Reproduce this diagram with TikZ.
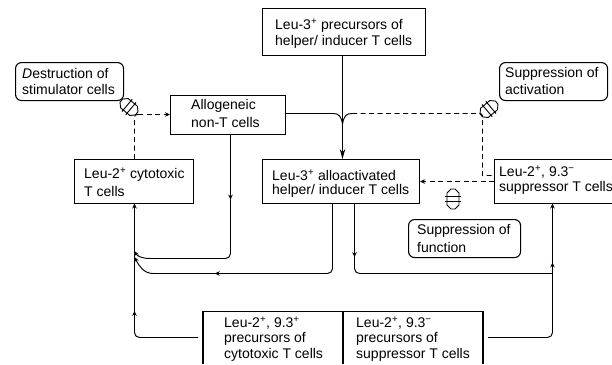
\documentclass[tikz,border=0pt]{standalone}
\usepackage{fontspec}
\setmainfont{Liberation Sans}
\usetikzlibrary{arrows.meta,calc,decorations.markings}
\tikzset{
  x=1pt,y=-1pt,
  sq/.style={inner sep=0pt},
  lbl/.style={inner sep=0pt,anchor=west,align=left,font=\fontsize{14}{16}\selectfont},
  solid conn/.style={line width=0.95pt},
  conn/.style={line width=0.95pt,rounded corners=5pt},
  dash conn/.style={line width=0.95pt,dash pattern=on 5pt off 3.5pt},
  tip/.style={-{Stealth[length=5pt,width=4.5pt]}},
  bigtip/.style={-{Stealth[length=10pt,width=5.5pt]}},
  midtip/.style={postaction={decorate},decoration={markings,mark=at position #1 with {\arrow{Stealth[length=5pt,width=4.5pt]}}}},
  icon/.style={line width=0.9pt,line join=round},
  barrel/.pic={
    \draw[icon] (-10,-2) -- (-6,-6) -- (6,-6) -- (10,-2) -- (10,2) -- (6,6) -- (-6,6) -- (-10,2) -- cycle;
    \draw[icon] (-2.5,-8) -- (-2.5,8);
    \draw[icon] (2.5,-8) -- (2.5,8);
  },
}
\newcommand{\cellbox}[5]{\node[sq,draw,line width=1.1pt,minimum width=#4pt,minimum height=#5pt,anchor=north west] (#1) at (#2,#3) {};}
\newcommand{\roundbox}[5]{\node[sq,draw,rounded corners=6pt,line width=1.1pt,minimum width=#4pt,minimum height=#5pt,anchor=north west] (#1) at (#2,#3) {};}
\begin{document}
\begin{tikzpicture}
\useasboundingbox (0,0) rectangle (612,364);
\cellbox{top}{262}{8}{163}{47}
\roundbox{destr}{15}{62}{108}{38}
\roundbox{supact}{499}{62}{108}{38}
\cellbox{allo}{170}{95}{115}{39}
\cellbox{cyto}{74}{159}{119}{44}
\cellbox{mid}{262}{159}{157}{44}
\cellbox{supp}{494}{159}{120}{44}
\roundbox{supfn}{408}{219}{112}{38}
\draw[line width=1.1pt] (203,364) -- (203,311.5) -- (483,311.5) -- (483,364);
\draw[line width=1.1pt] (343,311.5) -- (343,364);
\coordinate (botl) at (198,337.5);
\coordinate (botr) at (488,337.5);
\node[lbl] (t1) at (275,26) {Leu-3\textsuperscript{+} precursors of};
\node[lbl] (t2) at (275,42) {helper/ inducer T cells};
\node[lbl] (t3) at (22,73) {\itshape D\upshape estruction of};
\node[lbl] (t4) at (22,89) {stimulator cells};
\node[lbl] (t5) at (505,74) {Suppression of};
\node[lbl] (t6) at (505,89) {activation};
\node[lbl] (t7) at (191,106) {Allogeneic};
\node[lbl] (t8) at (191,122) {non-T cells};
\node[lbl] (t9) at (84,175) {Leu-2\textsuperscript{+} cytotoxic};
\node[lbl] (t10) at (84,191) {T cells};
\node[lbl] (t11) at (272,175) {Leu-3\textsuperscript{+} alloactivated};
\node[lbl] (t12) at (272,191) {helper/ inducer T cells};
\node[lbl] (t13) at (499,172) {Leu-2\textsuperscript{+}, 9.3\textsuperscript{−}};
\node[lbl] (t14) at (499,188) {suppressor T cells};
\node[lbl] (t15) at (417,231) {Suppression of};
\node[lbl] (t16) at (417,247) {function};
\node[lbl] (t17) at (224,323) {Leu-2\textsuperscript{+}, 9.3\textsuperscript{+}};
\node[lbl] (t18) at (224,339) {precursors of};
\node[lbl] (t19) at (224,355) {cytotoxic T cells};
\node[lbl] (t20) at (356,323) {Leu-2\textsuperscript{+}, 9.3\textsuperscript{−}};
\node[lbl] (t21) at (356,339) {precursors of};
\node[lbl] (t22) at (356,355) {suppressor T cells};
\coordinate (j) at (342.5,124);
% solid
\draw[solid conn,bigtip] (top.south -| j) -- (mid.north -| j);
\draw[solid conn] (allo.east |- 0,113.5) -- (333,113.5) .. controls (339,113.5) and (341,116) .. (j);
\draw[solid conn] (352,113.5) .. controls (346,113.5) and (344,116) .. (j);
\draw[dash conn] (352,113.5) -- (479,113.5) .. controls (481,113.5) and (482.5,114) .. (482.5,116) -- (482.5,175.5) -- (supp.west |- 0,175.5);
\draw[dash conn,tip] (supp.west |- 0,181.5) -- (mid.east |- 0,181.5);
\draw[dash conn] (cyto.north -| 134.5,0) -- (134.5,118) .. controls (134.5,115) and (135,114.5) .. (138,114.5);
\draw[dash conn,tip] (138,114.5) -- (allo.west |- 0,114.5);
% loops
\draw[conn,midtip=0.32] (allo.south -| 230.5,0) -- (230.5,258.5) -- (150,258.5);
\draw[solid conn,tip] (150,258.5) .. controls (142,258.5) and (137,256) .. (134.5,251);
\draw[conn,midtip=0.75] (mid.south -| 332.5,0) -- (332.5,273.5) -- (153,273.5);
\draw[solid conn,tip] (153,273.5) .. controls (144,273.5) and (139,266) .. (134.5,257);
\draw[conn,midtip=0.45,tip] (botl) -- (134.5,337.5) -- (134.5,203.5);
\draw[conn,midtip=0.2] (mid.south -| 354.5,0) -- (354.5,273.5) -- (552.5,273.5);
\draw[conn,midtip=0.7,tip] (botr) -- (552.5,337.5) -- (552.5,203.5);
% inhibitor icons
\pic[rotate=-40] (ia) at (129,107) {barrel};
\pic[rotate=40] (ib) at (489,109) {barrel};
\pic[rotate=90] (ic) at (453,199) {barrel};
\end{tikzpicture}
\end{document}
